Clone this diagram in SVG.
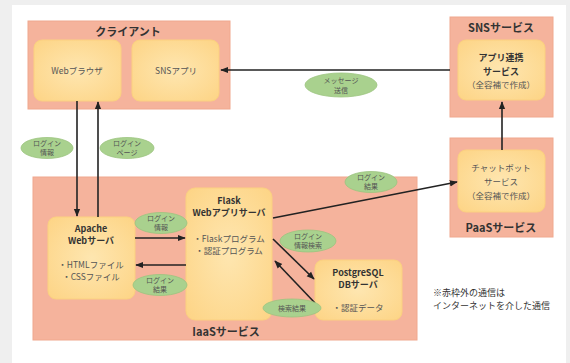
<svg xmlns="http://www.w3.org/2000/svg" width="570" height="363" viewBox="0 0 570 363">
<defs>
<style>
text{font-family:"Noto Sans CJK JP","Noto Sans",sans-serif;text-anchor:middle;fill:#444}
.outer{fill:#f5b39c;stroke:#f0a88e;stroke-width:1}
.inner{fill:#fdd98f;stroke:#fbd080;stroke-width:1}
.ttl{font-size:11px;font-weight:bold;fill:#333}
.bt{font-size:9px;font-weight:bold;fill:#333}
.t{font-size:8.5px;fill:#555}
.lbl ellipse{fill:#a9d18e;stroke:#9cc47f;stroke-width:0.8}
.lbl text{font-size:7px;fill:#555}
.conn line{stroke:#222;stroke-width:1.6;marker-end:url(#ah)}
.note{font-size:9px;fill:#333;text-anchor:start}
</style>
<marker id="ah" viewBox="0 0 10 10" refX="9" refY="5" markerWidth="5" markerHeight="5" orient="auto"><path d="M0,1 L10,5 L0,9 z" fill="#222"/></marker>
<radialGradient id="ig" cx="0.5" cy="0.5" r="0.7"><stop offset="0" stop-color="#fee6b0"/><stop offset="1" stop-color="#fdd485"/></radialGradient>
</defs>
<rect width="570" height="363" fill="#efefef"/>
<rect x="12" y="5" width="554" height="358" fill="#ffffff"/>

<g id="iaas">
<rect class="outer" x="33" y="177" width="384" height="163"/>
<text class="ttl" x="226" y="336">IaaSサービス</text>
</g>

<g id="client">
<rect class="outer" x="28" y="21" width="202" height="88"/>
<text class="ttl" x="128" y="36">クライアント</text>
</g>
<g id="webbrowser">
<rect class="inner" style="fill:url(#ig)" x="34" y="40" width="87" height="61" rx="8"/>
<text class="t" x="77" y="74">Webブラウザ</text>
</g>
<g id="snsapp">
<rect class="inner" style="fill:url(#ig)" x="132" y="40" width="87" height="61" rx="8"/>
<text class="t" x="176" y="74">SNSアプリ</text>
</g>

<g id="sns">
<rect class="outer" x="450" y="17" width="103" height="100"/>
<text class="ttl" x="501" y="32">SNSサービス</text>
</g>
<g id="applink">
<rect class="inner" style="fill:url(#ig)" x="458" y="40" width="87" height="60" rx="8"/>
<text class="bt" x="501" y="61">アプリ連携</text>
<text class="bt" x="501" y="75">サービス</text>
<text class="t" x="501" y="88">（全容補で作成）</text>
</g>

<g id="paas">
<rect class="outer" x="450" y="138" width="103" height="99"/>
<text class="ttl" x="501" y="232">PaaSサービス</text>
</g>
<g id="chatbot">
<rect class="inner" style="fill:url(#ig)" x="458" y="150" width="87" height="62" rx="8"/>
<text class="t" x="501" y="171">チャットボット</text>
<text class="t" x="501" y="185">サービス</text>
<text class="t" x="501" y="199">（全容補で作成）</text>
</g>

<g id="apache">
<rect class="inner" style="fill:url(#ig)" x="48" y="217" width="87" height="82" rx="8"/>
<text class="bt" x="91" y="232">Apache</text>
<text class="bt" x="91" y="244">Webサーバ</text>
<text class="t" x="91" y="268">・HTMLファイル</text>
<text class="t" x="91" y="280">・CSSファイル</text>
</g>

<g id="flask">
<rect class="inner" style="fill:url(#ig)" x="186" y="188" width="86" height="132" rx="9"/>
<text class="bt" x="229" y="204">Flask</text>
<text class="bt" x="229" y="216">Webアプリサーバ</text>
<text class="t" x="229" y="242">・Flaskプログラム</text>
<text class="t" x="229" y="254">・認証プログラム</text>
</g>

<g id="db">
<rect class="inner" style="fill:url(#ig)" x="315" y="260" width="87" height="60" rx="8"/>
<text class="bt" x="358" y="276">PostgreSQL</text>
<text class="bt" x="358" y="288">DBサーバ</text>
<text class="t" x="358" y="311">・認証データ</text>
</g>

<g id="connectors" class="conn">
<line x1="450" y1="70" x2="221" y2="70"/>
<line x1="502" y1="150" x2="502" y2="102"/>
<line x1="77" y1="101" x2="77" y2="216"/>
<line x1="98" y1="217" x2="98" y2="102"/>
<line x1="135" y1="238" x2="185" y2="238"/>
<line x1="186" y1="265" x2="136" y2="265"/>
<line x1="273" y1="218" x2="457" y2="182"/>
<line x1="273" y1="239" x2="314" y2="279"/>
<line x1="315" y1="303" x2="275" y2="261"/>
</g>

<g id="labels" class="lbl">
<g id="lbl-msg"><ellipse cx="341" cy="85" rx="36" ry="12"/><text x="341" y="83">メッセージ</text><text x="341" y="93">送信</text></g>
<g id="lbl-login1"><ellipse cx="47" cy="148" rx="26" ry="10.5"/><text x="47" y="146">ログイン</text><text x="47" y="155">情報</text></g>
<g id="lbl-page"><ellipse cx="127" cy="148" rx="27" ry="10.5"/><text x="127" y="146">ログイン</text><text x="127" y="155">ページ</text></g>
<g id="lbl-login2"><ellipse cx="161" cy="223" rx="26" ry="10.5"/><text x="161" y="221">ログイン</text><text x="161" y="230">情報</text></g>
<g id="lbl-result1"><ellipse cx="160" cy="285" rx="27" ry="10.5"/><text x="160" y="283">ログイン</text><text x="160" y="292">結果</text></g>
<g id="lbl-result2"><ellipse cx="371" cy="182" rx="26" ry="10.5"/><text x="371" y="180">ログイン</text><text x="371" y="189">結果</text></g>
<g id="lbl-search"><ellipse cx="308" cy="241" rx="28" ry="11"/><text x="308" y="239">ログイン</text><text x="308" y="248">情報検索</text></g>
<g id="lbl-sres"><ellipse cx="292" cy="308" rx="29" ry="9"/><text x="292" y="311">検索結果</text></g>
</g>

<g id="note">
<text class="note" x="433" y="296">※赤枠外の通信は</text>
<text class="note" x="433" y="309">インターネットを介した通信</text>
</g>
</svg>
